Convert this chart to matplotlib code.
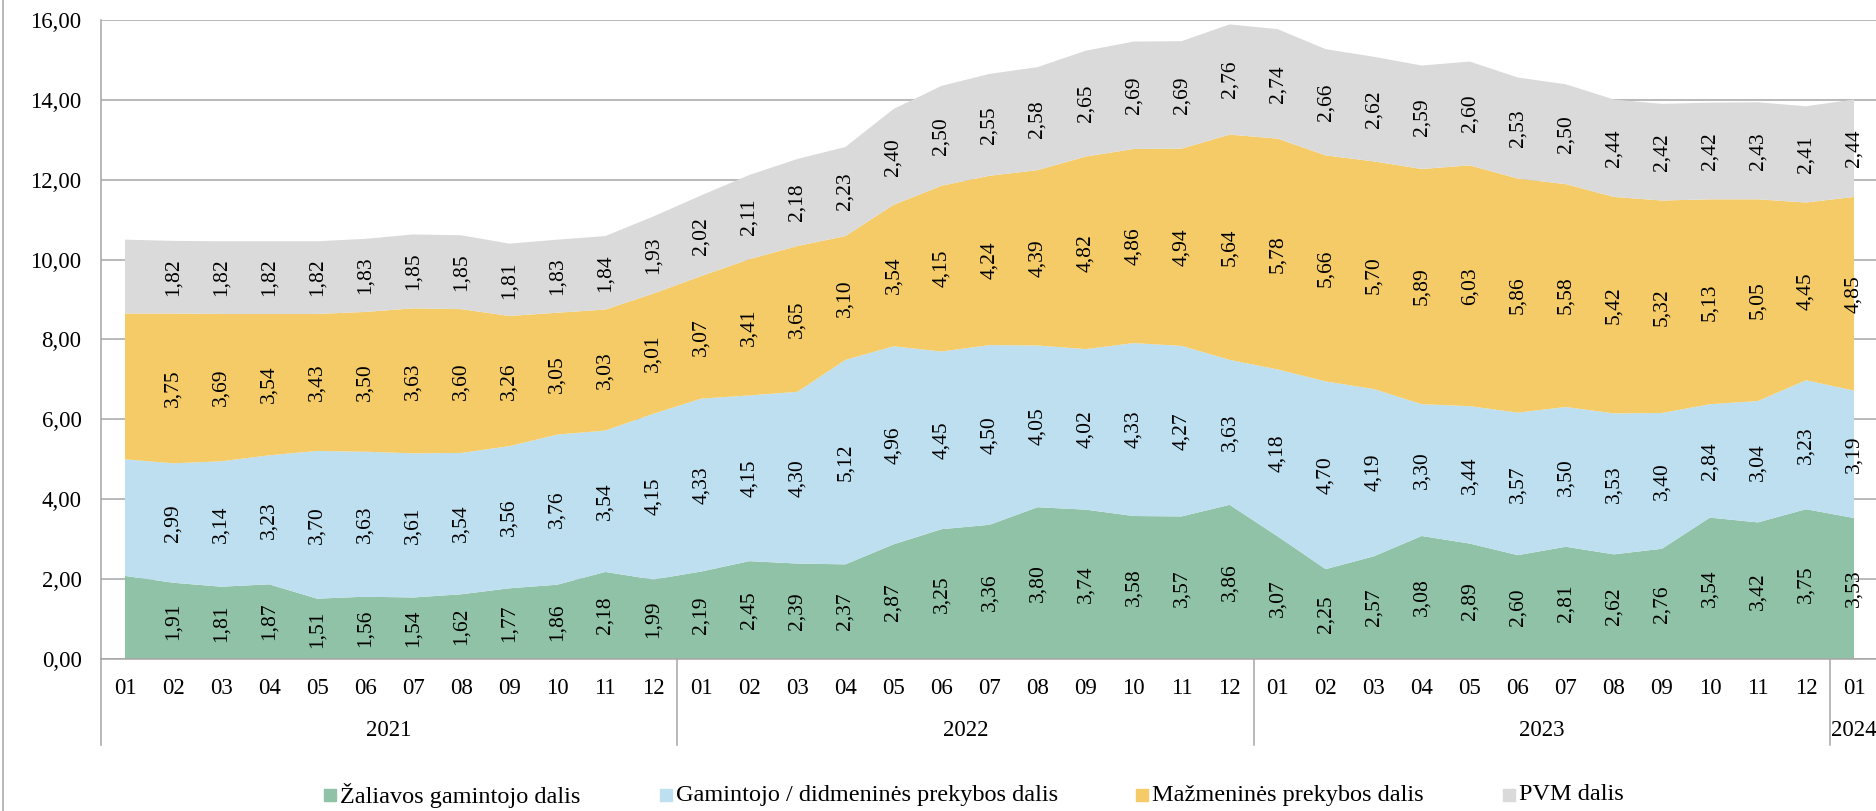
import matplotlib.pyplot as plt
from matplotlib.patches import Rectangle
from matplotlib.lines import Line2D

plt.rcParams["font.family"] = ["Liberation Serif", "DejaVu Serif"]

# Data: 2021-01 .. 2024-01
months = ["01", "02", "03", "04", "05", "06", "07", "08", "09", "10", "11", "12"] * 3 + ["01"]
years = ["2021", "2022", "2023", "2024"]

zaliava = [2.08, 1.91, 1.81, 1.87, 1.51, 1.56, 1.54, 1.62, 1.77, 1.86, 2.18, 1.99,
           2.19, 2.45, 2.39, 2.37, 2.87, 3.25, 3.36, 3.80, 3.74, 3.58, 3.57, 3.86,
           3.07, 2.25, 2.57, 3.08, 2.89, 2.60, 2.81, 2.62, 2.76, 3.54, 3.42, 3.75,
           3.53]
gamintojas = [2.92, 2.99, 3.14, 3.23, 3.70, 3.63, 3.61, 3.54, 3.56, 3.76, 3.54, 4.15,
              4.33, 4.15, 4.30, 5.12, 4.96, 4.45, 4.50, 4.05, 4.02, 4.33, 4.27, 3.63,
              4.18, 4.70, 4.19, 3.30, 3.44, 3.57, 3.50, 3.53, 3.40, 2.84, 3.04, 3.23,
              3.19]
mazmena = [3.65, 3.75, 3.69, 3.54, 3.43, 3.50, 3.63, 3.60, 3.26, 3.05, 3.03, 3.01,
           3.07, 3.41, 3.65, 3.10, 3.54, 4.15, 4.24, 4.39, 4.82, 4.86, 4.94, 5.64,
           5.78, 5.66, 5.70, 5.89, 6.03, 5.86, 5.58, 5.42, 5.32, 5.13, 5.05, 4.45,
           4.85]
pvm = [1.85, 1.82, 1.82, 1.82, 1.82, 1.83, 1.85, 1.85, 1.81, 1.83, 1.84, 1.93,
       2.02, 2.11, 2.18, 2.23, 2.40, 2.50, 2.55, 2.58, 2.65, 2.69, 2.69, 2.76,
       2.74, 2.66, 2.62, 2.59, 2.60, 2.53, 2.50, 2.44, 2.42, 2.42, 2.43, 2.41,
       2.44]

series = [zaliava, gamintojas, mazmena, pvm]
names = ["Žaliavos gamintojo dalis", "Gamintojo / didmeninės prekybos dalis",
         "Mažmeninės prekybos dalis", "PVM dalis"]
colors = ["#8FC2A6", "#BDDFEF", "#F4CB66", "#DADADA"]
grey = "#A6A6A6"
fs = 16.5      # axis text
fs_leg = 17.5  # legend
fs_lab = 15.5  # data labels

W, H = 1876, 811
fig = plt.figure(figsize=(W / 100, H / 100), dpi=100)
x0, x1, y0, y1 = 101, 1878, 659, 20
ax = fig.add_axes([x0 / W, (H - y0) / H, (x1 - x0) / W, (y0 - y1) / H])

x = list(range(len(months)))
ax.stackplot(x, *series, colors=colors, zorder=2)

# data labels (first month has none)
bottom = [0.0] * len(x)
for s in series:
    for i in x:
        if i > 0:
            ax.text(i, bottom[i] + s[i] / 2, f"{s[i]:.2f}".replace(".", ","),
                    rotation=90, ha="center", va="center", fontsize=fs_lab, zorder=3)
    bottom = [b + v for b, v in zip(bottom, s)]

ax.set_xlim(-0.5, len(x) - 0.5)
ax.set_ylim(0, 16)
yt = list(range(0, 17, 2))
ax.set_yticks(yt)
ax.set_yticklabels([f"{v:.2f}".replace(".", ",") for v in yt], fontsize=fs)
ax.yaxis.grid(True, color=grey, lw=1.1)
ax.set_axisbelow(True)
ax.tick_params(axis="y", length=0, pad=14)
ax.set_xticks([])

for side in ["top", "right"]:
    ax.spines[side].set_visible(False)
for side in ["left", "bottom"]:
    ax.spines[side].set_color(grey)
    ax.spines[side].set_linewidth(1.1)

# month / year category labels and separators
tr = ax.get_xaxis_transform()
ppx = y0 - y1
for i, m in zip(x, months):
    ax.text(i, (y0 - 688) / ppx, m, transform=tr, ha="center", va="center", fontsize=fs)
for xs in [-0.5, 11.5, 23.5, 35.5]:
    ax.plot([xs, xs], [0, (y0 - 745) / ppx], transform=tr, color=grey, lw=1.1, clip_on=False)
year_x = [5.5, 17.5, 29.5, 36]
for yx, yl in zip(year_x, years):
    ax.text(yx, (y0 - 731) / ppx, yl, transform=tr, ha="center", va="center", fontsize=fs)

# chart area border (left side visible)
fig.add_artist(Line2D([3 / W, 3 / W], [0, 1], color=grey, lw=1.1))

# legend
leg_x = [324, 660, 1136, 1503]
for lx, c, n in zip(leg_x, colors, names):
    fig.add_artist(Rectangle((lx / W, (H - 801) / H), 12 / W, 12 / H, color=c,
                             transform=fig.transFigure))
    fig.text((lx + 16) / W, (H - 795) / H, n, ha="left", va="center", fontsize=fs_leg)

fig.savefig("out.png", dpi=100)
